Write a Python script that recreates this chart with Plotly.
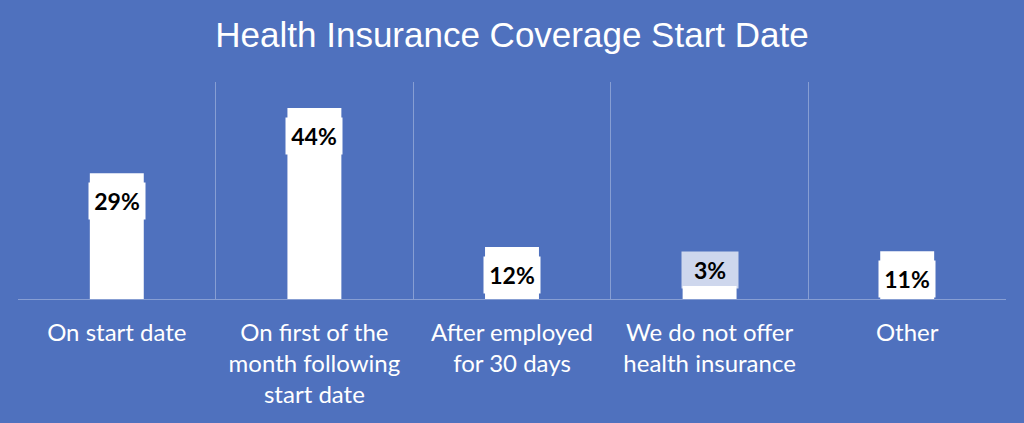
import plotly.graph_objects as go

categories = ['On start date',
              'On first of the<br>month following<br>start date',
              'After employed<br>for 30 days',
              'We do not offer<br>health insurance',
              'Other']
values = [29, 44, 12, 3, 11]
value_labels = ['29%', '44%', '12%', '3%', '11%']

bg = '#4f71be'
grid = 'rgba(255,255,255,0.32)'
x_pos = list(range(len(categories)))

fig = go.Figure()
fig.add_trace(go.Bar(
    x=x_pos,
    y=values,
    marker=dict(color='white', line=dict(width=0)),
    width=0.273,
    hoverinfo='skip'
))

# value boxes: inside near the top, or above when the bar is too short
for xi, v, lab in zip(x_pos, values, value_labels):
    small = v < 6
    fig.add_annotation(
        x=xi, y=v, xref='x', yref='y',
        text='<b>' + lab + '</b>',
        showarrow=False,
        font=dict(family='Lato', size=23, color='black'),
        bgcolor='rgba(255,255,255,0.72)' if small else 'white',
        width=54, height=34,
        yanchor='bottom' if small else 'middle',
        yshift=-3 if small else -28
    )

fig.update_layout(
    title=dict(
        text='Health Insurance Coverage Start Date',
        x=0.5, xanchor='center', y=0.918, yanchor='middle',
        font=dict(size=35, family='Liberation Sans', color='white')
    ),
    paper_bgcolor=bg,
    plot_bgcolor=bg,
    showlegend=False,
    xaxis=dict(
        range=[-0.5, 4.5],
        tickvals=x_pos,
        ticktext=categories,
        tickfont=dict(size=24, family='Lato', color='white'),
        ticks='outside', ticklen=12, tickcolor='rgba(0,0,0,0)',
        showgrid=False,
        zeroline=False,
        showline=False,
        minor=dict(
            tickvals=[-0.5, 0.5, 1.5, 2.5, 3.5, 4.5],
            showgrid=True, gridcolor=grid, gridwidth=1, ticks=''
        )
    ),
    yaxis=dict(
        range=[0, 50],
        showgrid=False,
        showticklabels=False,
        zeroline=True, zerolinecolor=grid, zerolinewidth=1
    ),
    margin=dict(l=18, r=18, t=82, b=124),
    width=1024, height=423
)

fig.write_html('out.html', config={'displayModeBar': False},
               post_script="document.body.style.margin='0';")
